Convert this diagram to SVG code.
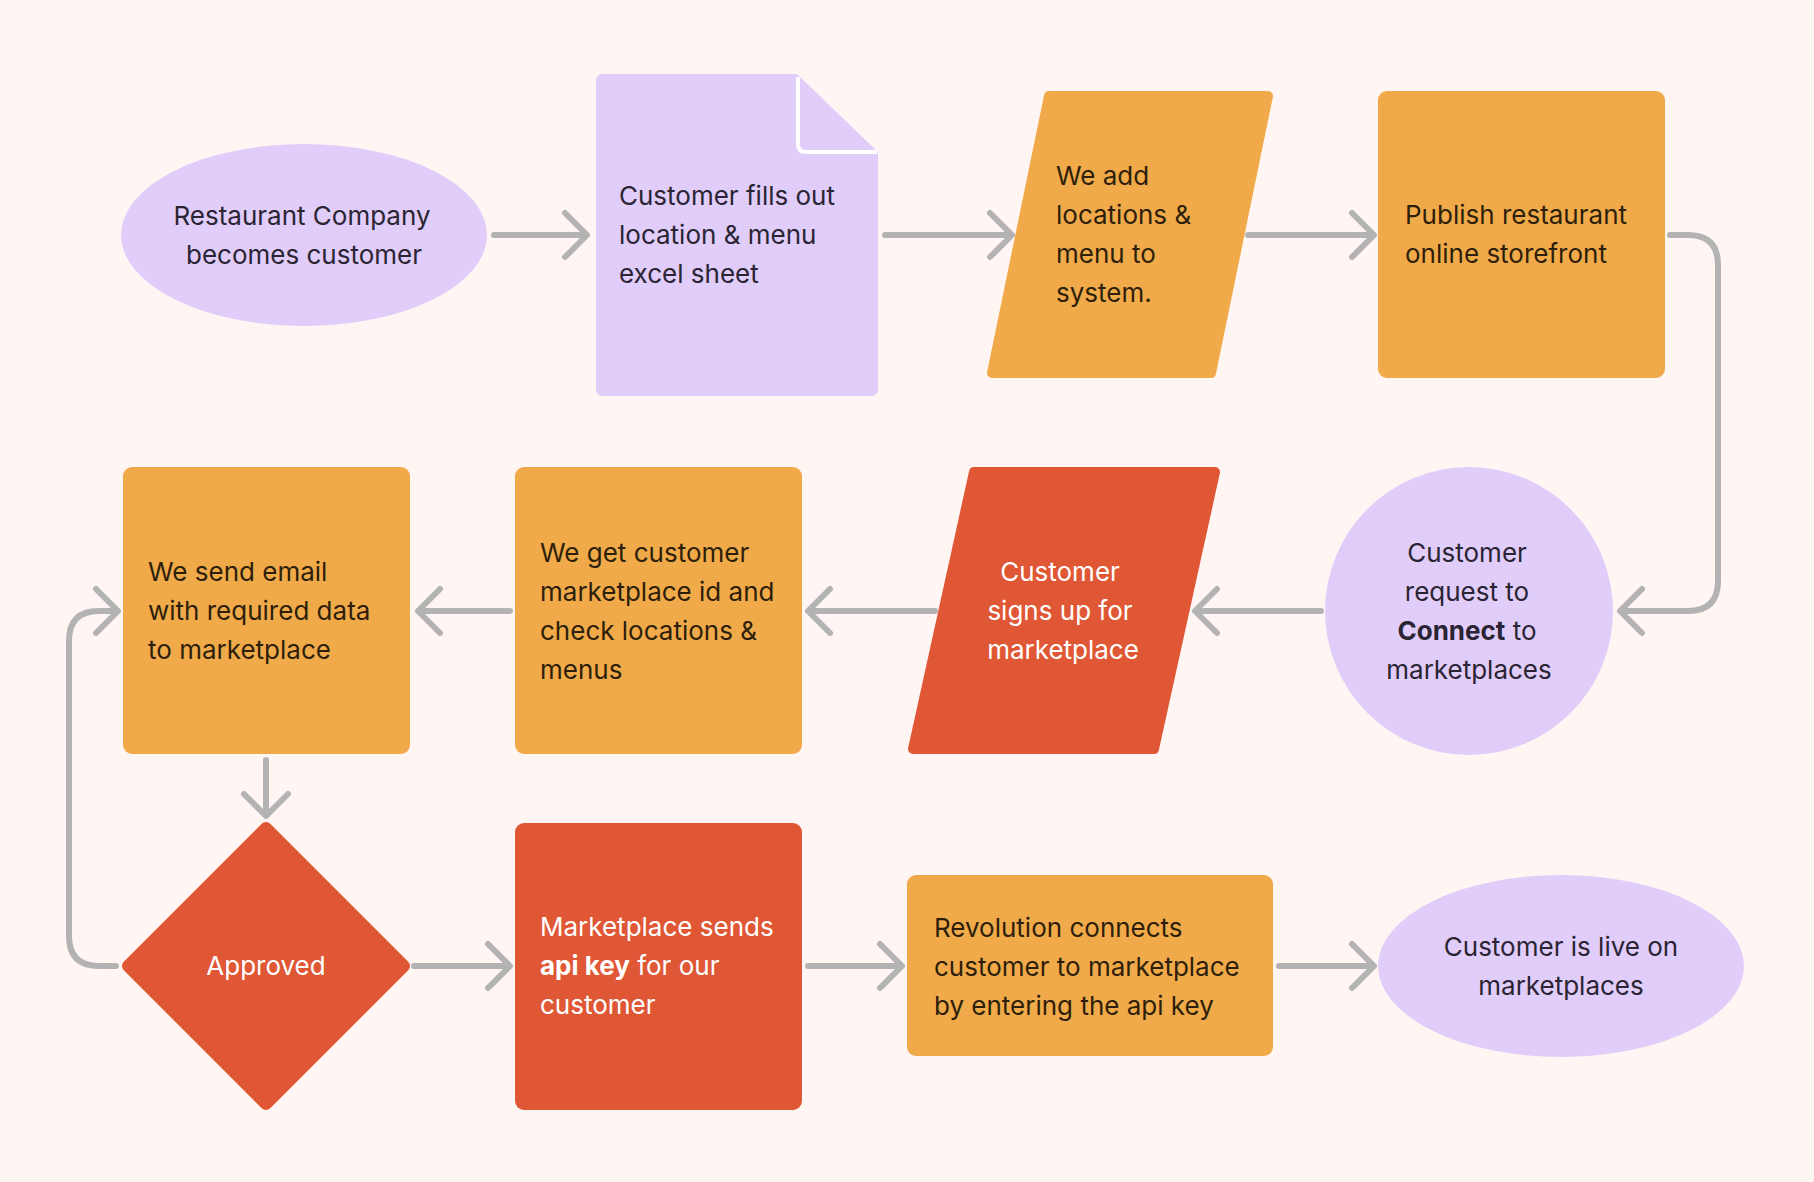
<svg xmlns="http://www.w3.org/2000/svg" width="1814" height="1182" viewBox="0 0 1814 1182">
<defs>
<style>
.bg{fill:#fff6f3}
.pur{fill:#e0cdfa}
.org{fill:#f1aa4a}
.red{fill:#e05736}
.t{font-family:Inter,"Noto Sans","Liberation Sans",sans-serif;font-size:26px}
.tp{fill:#2b2433}
.to{fill:#2e1f0a}
.tw{fill:#ffffff}
.b{font-weight:700}
.c{stroke:#b3b3b3;stroke-width:6;fill:none;stroke-linecap:round;stroke-linejoin:round}
</style>
</defs>
<rect class="bg" x="0" y="0" width="1814" height="1182"/>

<g id="connectors">
  <path class="c" d="M494,235 H585 M565,213 L587,235 L565,257"/>
  <path class="c" d="M885,235 H1010 M990,213 L1012,235 L990,257"/>
  <path class="c" d="M1248,235 H1372 M1352,213 L1374,235 L1352,257"/>
  <path class="c" d="M1670,235 H1688 Q1718,235 1718,265 V581 Q1718,611 1688,611 H1622 M1642,589 L1620,611 L1642,633"/>
  <path class="c" d="M1321,611 H1197 M1217,589 L1195,611 L1217,633"/>
  <path class="c" d="M935,611 H810 M830,589 L808,611 L830,633"/>
  <path class="c" d="M510,611 H420 M440,589 L418,611 L440,633"/>
  <path class="c" d="M266,760 V814 M244,794 L266,816 L288,794"/>
  <path class="c" d="M116,966 H99 Q69,966 69,936 V641 Q69,611 99,611 H116 M96,589 L118,611 L96,633"/>
  <path class="c" d="M414,966 H508 M488,944 L510,966 L488,988"/>
  <path class="c" d="M808,966 H900 M880,944 L902,966 L880,988"/>
  <path class="c" d="M1279,966 H1372 M1352,944 L1374,966 L1352,988"/>
</g>

<g id="n1">
  <ellipse class="pur" cx="304" cy="235" rx="183" ry="91"/>
  <text class="t tp" x="302" y="225" text-anchor="middle">Restaurant Company</text>
  <text class="t tp" x="304" y="264" text-anchor="middle">becomes customer</text>
</g>

<g id="n2">
  <path class="pur" d="M603,74 H797 L878,152 V389 Q878,396 871,396 H603 Q596,396 596,389 V81 Q596,74 603,74 Z"/>
  <path d="M798,77 V144 Q798,152 806,152 H877" fill="none" stroke="#ffffff" stroke-width="4"/>
  <text class="t tp" x="619" y="205">Customer fills out</text>
  <text class="t tp" x="619" y="244">location &amp; menu</text>
  <text class="t tp" x="619" y="283">excel sheet</text>
</g>

<g id="n3">
  <polygon class="org" points="1049,96 1268,96 1211,373 992,373" stroke="#f1aa4a" stroke-width="10" stroke-linejoin="round"/>
  <text class="t to" x="1056" y="185">We add</text>
  <text class="t to" x="1056" y="224">locations &amp;</text>
  <text class="t to" x="1056" y="263">menu to</text>
  <text class="t to" x="1056" y="302">system.</text>
</g>

<g id="n4">
  <rect class="org" x="1378" y="91" width="287" height="287" rx="9"/>
  <text class="t to" x="1405" y="224">Publish restaurant</text>
  <text class="t to" x="1405" y="263">online storefront</text>
</g>

<g id="n5">
  <circle class="pur" cx="1469" cy="611" r="144"/>
  <text class="t tp" x="1467" y="562" text-anchor="middle">Customer</text>
  <text class="t tp" x="1467" y="601" text-anchor="middle">request to</text>
  <text class="t tp" x="1467" y="640" text-anchor="middle"><tspan class="b">Connect</tspan> to</text>
  <text class="t tp" x="1469" y="679" text-anchor="middle">marketplaces</text>
</g>

<g id="n6">
  <polygon class="red" points="974,472 1215,472 1154,749 913,749" stroke="#e05736" stroke-width="10" stroke-linejoin="round"/>
  <text class="t tw" x="1060" y="581" text-anchor="middle">Customer</text>
  <text class="t tw" x="1060" y="620" text-anchor="middle">signs up for</text>
  <text class="t tw" x="1063" y="659" text-anchor="middle">marketplace</text>
</g>

<g id="n7">
  <rect class="org" x="515" y="467" width="287" height="287" rx="9"/>
  <text class="t to" x="540" y="562">We get customer</text>
  <text class="t to" x="540" y="601">marketplace id and</text>
  <text class="t to" x="540" y="640">check locations &amp;</text>
  <text class="t to" x="540" y="679">menus</text>
</g>

<g id="n8">
  <rect class="org" x="123" y="467" width="287" height="287" rx="9"/>
  <text class="t to" x="148" y="581">We send email</text>
  <text class="t to" x="148" y="620">with required data</text>
  <text class="t to" x="148" y="659">to marketplace</text>
</g>

<g id="n9">
  <polygon class="red" points="266,828 404,966 266,1104 128,966" stroke="#e05736" stroke-width="12" stroke-linejoin="round"/>
  <text class="t tw" x="266" y="975" text-anchor="middle">Approved</text>
</g>

<g id="n10">
  <rect class="red" x="515" y="823" width="287" height="287" rx="9"/>
  <text class="t tw" x="540" y="936">Marketplace sends</text>
  <text class="t tw" x="540" y="975"><tspan class="b">api key</tspan> for our</text>
  <text class="t tw" x="540" y="1014">customer</text>
</g>

<g id="n11">
  <rect class="org" x="907" y="875" width="366" height="181" rx="9"/>
  <text class="t to" x="934" y="937">Revolution connects</text>
  <text class="t to" x="934" y="976">customer to marketplace</text>
  <text class="t to" x="934" y="1015">by entering the api key</text>
</g>

<g id="n12">
  <ellipse class="pur" cx="1561" cy="966" rx="183" ry="91"/>
  <text class="t tp" x="1561" y="956" text-anchor="middle">Customer is live on</text>
  <text class="t tp" x="1561" y="995" text-anchor="middle">marketplaces</text>
</g>
</svg>
